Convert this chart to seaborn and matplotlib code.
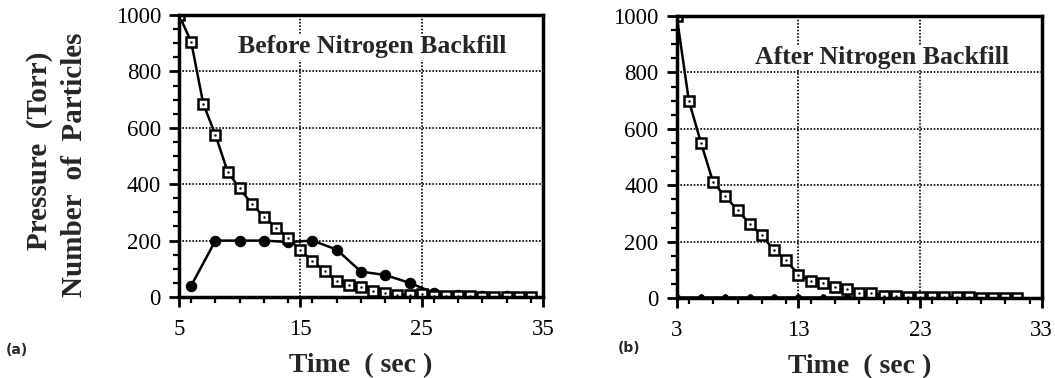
import matplotlib
matplotlib.use("Agg")
import matplotlib.pyplot as plt
import seaborn as sns
from matplotlib.ticker import MultipleLocator

# ---- data ----
time_a_pressure = list(range(5, 35))
pressure_a = [1000, 905, 685, 575, 445, 385, 330, 285, 245, 210, 165, 128, 92, 55, 42,
              35, 22, 14, 8, 7, 10, 5, 3, 2, 2, 1, 1, 1, 1, 0]
time_a_particles = list(range(6, 35, 2))
particles_a = [40, 200, 200, 200, 195, 200, 168, 90, 78, 50, 15, 6, 3, 2, 1]

time_b_pressure = list(range(3, 32))
pressure_b = [1000, 700, 550, 410, 360, 312, 263, 222, 170, 134, 82, 62, 54, 38, 32,
              19, 17, 8, 6, 5, 4, 3, 3, 2, 2, 1, 1, 1, 0]
time_b_particles = list(range(3, 32, 2))
particles_b = [2, 2, 2, 2, 2, 2, 2, 2, 1, 1, 1, 1, 1, 1, 1]

xticks_a = [5, 15, 25, 35]
xticks_b = [3, 13, 23, 33]
yticks = [0, 200, 400, 600, 800, 1000]
titles = ["Before Nitrogen Backfill", "After Nitrogen Backfill"]
panel_labels = ["(a)", "(b)"]
xlabel = "Time  ( sec )"
ylabel_outer = "Pressure  (Torr)"
ylabel_inner = "Number  of  Particles"

sns.set_theme(style="ticks")
plt.rcParams["font.family"] = ["Liberation Serif", "DejaVu Serif"]

fig = plt.figure(figsize=(10.55, 3.78), dpi=100)
ax_a = fig.add_axes([0.1697, 0.2143, 0.345, 0.746])
ax_b = fig.add_axes([0.6414, 0.2116, 0.346, 0.746])


def draw(ax, tp, p, tq, q, xticks, title, tpos, small):
    sns.lineplot(x=tp, y=p, ax=ax, color="black", linewidth=1.8, marker="s",
                 markersize=7.5, markerfacecolor="white", markeredgecolor="black",
                 markeredgewidth=1.8, zorder=4, estimator=None)
    sns.scatterplot(x=tp, y=p, ax=ax, color="black", s=3, linewidth=0, zorder=5)
    sns.lineplot(x=tq, y=q, ax=ax, color="black", linewidth=1.8, marker="o",
                 markersize=4 if small else 7.5, markerfacecolor="black",
                 markeredgecolor="black", zorder=3, estimator=None)
    ax.set_xlim(xticks[0], xticks[-1])
    ax.set_ylim(yticks[0], yticks[-1])
    ax.set_xticks(xticks)
    ax.set_yticks(yticks)
    ax.xaxis.set_minor_locator(MultipleLocator(2))
    ax.yaxis.set_minor_locator(MultipleLocator(50))
    ax.grid(True, which="major", color="black", linestyle=(0, (1, 1)), linewidth=1.2)
    for s in ax.spines.values():
        s.set_linewidth(2.5)
        s.set_color("black")
        s.set_zorder(6)
    ax.tick_params(which="major", direction="out", length=7, width=2,
                   labelsize=16.5, color="black", labelcolor="black")
    ax.tick_params(axis="x", which="major", pad=9)
    ax.tick_params(axis="y", which="major", pad=6)
    ax.tick_params(which="minor", direction="out", length=4, width=1.6, color="black")
    ax.set_xlabel(xlabel, fontsize=20, fontweight="bold", labelpad=9)
    ax.set_ylabel("")
    ax.text(tpos[0], tpos[1], title, fontsize=18.5, fontweight="bold",
            ha="left", va="center", zorder=7,
            bbox=dict(facecolor="white", edgecolor="none", pad=1))
    ax.set_facecolor("white")


draw(ax_a, time_a_pressure, pressure_a, time_a_particles, particles_a,
     xticks_a, titles[0], (9.85, 887), False)
draw(ax_b, time_b_pressure, pressure_b, time_b_particles, particles_b,
     xticks_b, titles[1], (9.43, 853), True)

fig.text(0.037, 0.6, ylabel_outer, rotation=90, fontsize=21, fontweight="bold",
         ha="center", va="center")
fig.text(0.071, 0.565, ylabel_inner, rotation=90, fontsize=21, fontweight="bold",
         ha="center", va="center")
fig.text(0.005, 0.074, panel_labels[0], fontsize=10, fontweight="bold",
         family="DejaVu Sans", ha="left", va="center")
fig.text(0.586, 0.079, panel_labels[1], fontsize=10, fontweight="bold",
         family="DejaVu Sans", ha="left", va="center")

fig.savefig("out.png", dpi=100)
